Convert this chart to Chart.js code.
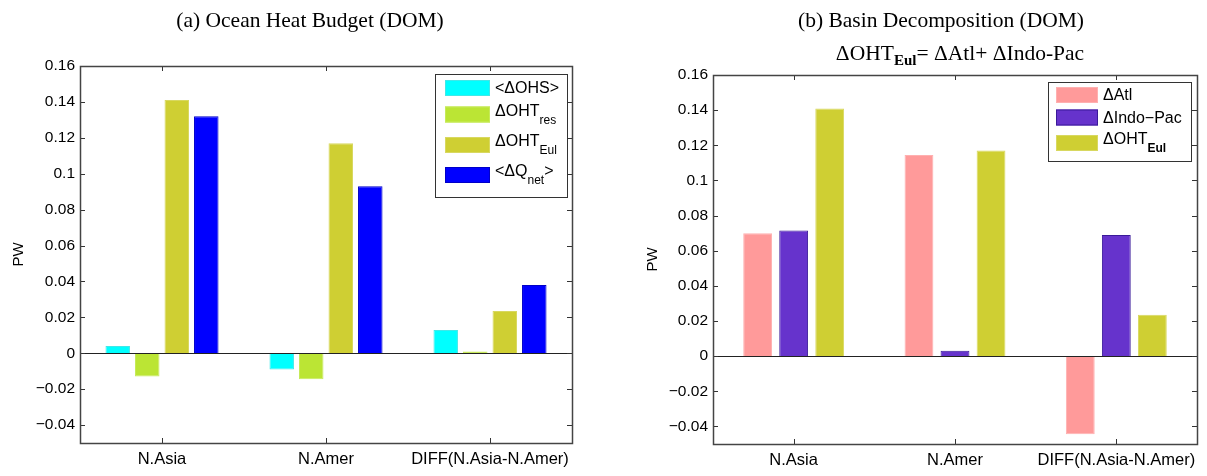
<!DOCTYPE html>
<html><head><meta charset="utf-8">
<script src="https://cdn.jsdelivr.net/npm/chart.js@4.4.0/dist/chart.umd.min.js"></script>
<style>
html,body{margin:0;padding:0;background:#fff;}
#wrap{position:relative;width:1207px;height:476px;overflow:hidden;background:#fff;}
#ca{position:absolute;left:0;top:0;}
#cb{position:absolute;left:600px;top:0;}
</style></head><body>
<div id="wrap"><canvas id="ca" width="600" height="476"></canvas><canvas id="cb" width="607" height="476"></canvas></div>
<script>
// ---------- data ----------
const categories = ['N.Asia', 'N.Amer', 'DIFF(N.Asia-N.Amer)'];

// (a) Ocean Heat Budget
const ohs    = [0.004, -0.009, 0.013];
const ohtRes = [-0.013, -0.0145, 0.001];
const ohtEul = [0.141, 0.117, 0.0235];
const qNet   = [0.132, 0.093, 0.038];

// (b) Basin Decomposition
const atl     = [0.070, 0.1145, -0.0445];
const indoPac = [0.0715, 0.003, 0.069];
const ohtEulB = [0.141, 0.117, 0.0235];

const yTicks      = [-0.04, -0.02, 0, 0.02, 0.04, 0.06, 0.08, 0.1, 0.12, 0.14, 0.16];
const yTickLabels = ['\u22120.04', '\u22120.02', '0', '0.02', '0.04', '0.06', '0.08', '0.1', '0.12', '0.14', '0.16'];

// legend / title text segments (sub = subscript)
const namesA = [
  [{t: '<\u0394OHS>'}],
  [{t: '\u0394OHT'}, {t: 'res', sub: true}],
  [{t: '\u0394OHT'}, {t: 'Eul', sub: true}],
  [{t: '<\u0394Q'}, {t: 'net', sub: true}, {t: '>'}]
];
const namesB = [
  [{t: '\u0394Atl'}],
  [{t: '\u0394Indo\u2212Pac'}],
  [{t: '\u0394OHT'}, {t: 'Eul', sub: true}]
];
const titleA = [{t: '(a) Ocean Heat Budget (DOM)'}];
const titleB = [{t: '(b) Basin Decomposition (DOM)'}];
const subtitleB = [{t: '\u0394OHT'}, {t: 'Eul', sub: true}, {t: '= \u0394Atl+ \u0394Indo-Pac'}];

const colorsA = ['#00FFFF', '#BBE534', '#CFCF33', '#0000FF'];
const bordersA = ['#40E8E8', '#C6EA5A', '#D8D860', '#0000C8'];
const colorsB = ['#FF9A9A', '#6633CC', '#CFCF33'];
const bordersB = ['#FFB0B0', '#3A1A99', '#D8D860'];

// ---------- helpers ----------
const SANS = '"Liberation Sans", Arial, Helvetica, sans-serif';
const SERIF = '"Liberation Serif", "Times New Roman", serif';

function segText(segs) { return segs.map(s => s.t).join(''); }

function drawSegs(ctx, segs, x, y, o) {
  const mainF = o.size + 'px ' + o.family;
  const subF = (o.subBold ? 'bold ' : '') + o.subSize + 'px ' + o.family;
  let w = 0;
  segs.forEach(s => { ctx.font = s.sub ? subF : mainF; w += ctx.measureText(s.t).width; });
  let cx = o.align === 'center' ? x - w / 2 : x;
  ctx.textBaseline = 'middle';
  ctx.textAlign = 'left';
  ctx.fillStyle = '#000';
  segs.forEach(s => {
    ctx.font = s.sub ? subF : mainF;
    ctx.fillText(s.t, cx, s.sub ? y + o.subDy : y);
    cx += ctx.measureText(s.t).width;
  });
}

const framePlugin = {
  id: 'frame',
  afterDatasetsDraw(chart) {
    const {ctx, chartArea: a, scales: {x, y}} = chart;
    ctx.save();
    ctx.lineWidth = 1;
    ctx.strokeStyle = '#222';
    const y0 = Math.round(y.getPixelForValue(0)) + 0.5;
    ctx.beginPath(); ctx.moveTo(a.left, y0); ctx.lineTo(a.right, y0); ctx.stroke();
    ctx.strokeStyle = '#333';
    ctx.beginPath();
    y.ticks.forEach(t => {
      const p = Math.round(y.getPixelForValue(t.value)) + 0.5;
      ctx.moveTo(a.left, p); ctx.lineTo(a.left + 5, p);
      ctx.moveTo(a.right, p); ctx.lineTo(a.right - 5, p);
    });
    x.ticks.forEach((t, i) => {
      const p = Math.round(x.getPixelForTick(i)) + 0.5;
      ctx.moveTo(p, a.bottom); ctx.lineTo(p, a.bottom - 5);
      ctx.moveTo(p, a.top); ctx.lineTo(p, a.top + 5);
    });
    ctx.stroke();
    ctx.lineWidth = 1.5;
    ctx.strokeStyle = '#444';
    ctx.strokeRect(Math.round(a.left) + 0.5, Math.round(a.top) + 0.5, Math.round(a.right - a.left), Math.round(a.bottom - a.top));
    ctx.restore();
  }
};

const decorPlugin = {
  id: 'decor',
  afterDraw(chart, args, o) {
    const ctx = chart.ctx;
    ctx.save();
    o.titles.forEach(tt => drawSegs(ctx, tt.segs, tt.x, tt.y, Object.assign({family: SERIF, align: 'center'}, tt.style)));
    const L = o.legend;
    ctx.fillStyle = '#fff';
    ctx.fillRect(L.x, L.y, L.w, L.h);
    ctx.lineWidth = 1;
    ctx.strokeStyle = '#333';
    ctx.strokeRect(L.x + 0.5, L.y + 0.5, L.w, L.h);
    chart.data.datasets.forEach((ds, i) => {
      const cy = L.rows[i];
      ctx.fillStyle = ds.backgroundColor;
      ctx.fillRect(L.sx, cy - L.sh / 2, L.sw, L.sh);
      ctx.strokeStyle = ds.borderColor;
      ctx.lineWidth = 1;
      ctx.strokeRect(L.sx + 0.5, cy - L.sh / 2 + 0.5, L.sw - 1, L.sh - 1);
      const segs = L.names[i];
      const hasSub = segs.some(s => s.sub);
      drawSegs(ctx, segs, L.tx, cy + (hasSub ? -3 : 1), {size: 16, subSize: 12, subDy: 9, family: SANS, subBold: L.subBold, align: 'left'});
    });
    ctx.restore();
  }
};

function yAxis(width, titlePad) {
  return {
    type: 'linear', min: -0.05, max: 0.16,
    grid: {display: false, drawTicks: false},
    border: {display: false},
    afterBuildTicks(s) { s.ticks = yTicks.map(v => ({value: v})); },
    ticks: {
      color: '#000', padding: 5, font: {family: SANS, size: 15.5},
      callback: (v, i) => yTickLabels[i]
    },
    title: {display: true, text: 'PW', color: '#000', font: {family: SANS, size: 15}, padding: {top: titlePad, bottom: 0}},
    afterFit(s) { s.width = width; }
  };
}
function xAxis(height) {
  return {
    type: 'category',
    grid: {display: false, drawTicks: false},
    border: {display: false},
    ticks: {color: '#000', padding: 7, maxRotation: 0, autoSkip: false, font: {family: SANS, size: 16.5}},
    afterFit(s) { s.height = height; }
  };
}

function makeDatasets(series, names, colors, borders) {
  return series.map((d, i) => ({
    label: segText(names[i]), data: d,
    backgroundColor: colors[i], borderColor: borders[i], borderWidth: 1
  }));
}

// ---------- chart (a) ----------
new Chart(document.getElementById('ca'), {
  type: 'bar',
  data: {labels: categories, datasets: makeDatasets([ohs, ohtRes, ohtEul, qNet], namesA, colorsA, bordersA)},
  options: {
    responsive: false, animation: false,
    layout: {padding: {top: 66, right: 28, left: 0, bottom: 0}},
    datasets: {bar: {categoryPercentage: 0.72, barPercentage: 0.83}},
    plugins: {
      legend: {display: false}, tooltip: {enabled: false},
      decor: {
        titles: [{segs: titleA, x: 310, y: 21, style: {size: 21.5, subSize: 15, subDy: 7}}],
        legend: {x: 435, y: 74, w: 132, h: 123, rows: [88, 114.5, 145, 175], sx: 445, sw: 45, sh: 16, tx: 495, names: namesA, subBold: false}
      }
    },
    scales: {x: xAxis(33), y: yAxis(80, 10)}
  },
  plugins: [framePlugin, decorPlugin]
});

// ---------- chart (b) ----------
new Chart(document.getElementById('cb'), {
  type: 'bar',
  data: {labels: categories, datasets: makeDatasets([atl, indoPac, ohtEulB], namesB, colorsB, bordersB)},
  options: {
    responsive: false, animation: false,
    layout: {padding: {top: 75, right: 10, left: 0, bottom: 0}},
    datasets: {bar: {categoryPercentage: 0.67, barPercentage: 0.8}},
    plugins: {
      legend: {display: false}, tooltip: {enabled: false},
      decor: {
        titles: [
          {segs: titleB, x: 341, y: 21, style: {size: 21.5, subSize: 15, subDy: 7}},
          {segs: subtitleB, x: 360, y: 54, style: {size: 21.5, subSize: 15, subDy: 7, subBold: true}}
        ],
        legend: {x: 448, y: 82, w: 143, h: 79, rows: [95, 117.5, 143], sx: 456, sw: 42, sh: 16, tx: 503, names: namesB, subBold: true}
      }
    },
    scales: {x: xAxis(32), y: yAxis(113, 44)}
  },
  plugins: [framePlugin, decorPlugin]
});
</script>
</body></html>
